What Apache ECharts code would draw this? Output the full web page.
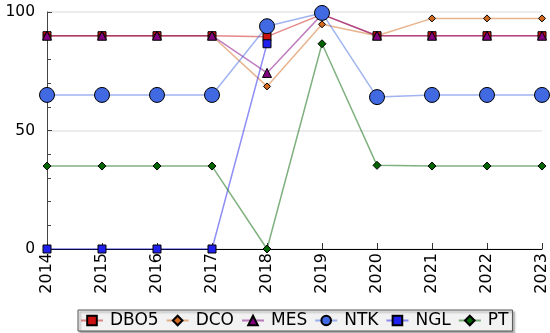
<!DOCTYPE html>
<html>
<head>
<meta charset="utf-8">
<script src="https://cdn.jsdelivr.net/npm/echarts@6/dist/echarts.min.js"></script>
<style>
  html, body { margin: 0; padding: 0; background: #fff; }
  #chart { width: 550px; height: 333px; }
</style>
</head>
<body>
<div id="chart"></div>
<script>
const years = ['2014', '2015', '2016', '2017', '2018', '2019', '2020', '2021', '2022', '2023']
const dbo5 = [90, 90, 90, 90, 89.6, 99, 90, 90, 90, 90]
const dco = [90, 90, 90, 90, 68.6, 94.8, 90, 97.3, 97.3, 97.3]
const mes = [90, 90, 90, 90, 74.3, 99, 90, 90, 90, 90]
const ntk = [65, 65, 65, 65, 94, 99.6, 64.1, 65, 65, 65]
const ngl = [0, 0, 0, 0, 86.6, null, null, null, null, null]
const pt = [35, 35, 35, 35, 0, 86.6, 35.3, 35, 35, 35]

const chart = echarts.init(document.getElementById('chart'), null, { renderer: 'canvas' })

function line(name, data, color, symbol, size) {
  return {
    name: name,
    type: 'line',
    data: data,
    symbol: symbol,
    symbolSize: size,
    showAllSymbol: true,
    connectNulls: false,
    lineStyle: { color: color, width: 1.5, opacity: 0.5 },
    itemStyle: { color: color, borderColor: '#000', borderWidth: 1 },
    emphasis: { disabled: true },
    animation: false
  }
}

chart.setOption({
  animation: false,
  textStyle: { fontFamily: 'DejaVu Sans' },
  grid: { left: 47, right: 5, top: 12, bottom: 84 },
  legend: {
    bottom: 2,
    left: 78,
    itemWidth: 22,
    itemHeight: 12,
    itemGap: 7,
    padding: [2, 4, 2, 2],
    borderColor: '#555',
    borderWidth: 1,
    backgroundColor: '#f2f2f2',
    shadowColor: 'rgba(0,0,0,0.35)',
    shadowOffsetX: 2,
    shadowOffsetY: 2,
    shadowBlur: 2,
    textStyle: { fontSize: 17, color: '#000', fontFamily: 'DejaVu Sans', padding: [0, 0, 0, 2] },
    data: ['DBO5', 'DCO', 'MES', 'NTK', 'NGL', 'PT']
  },
  xAxis: {
    type: 'category',
    data: years,
    boundaryGap: false,
    axisLine: { lineStyle: { color: '#000', width: 1 } },
    axisTick: { inside: true, length: 6, lineStyle: { color: '#333' } },
    axisLabel: { rotate: 90, fontSize: 16, color: '#000', margin: 4, interval: 0 },
    splitLine: { show: false }
  },
  yAxis: {
    type: 'value',
    min: 0,
    max: 100,
    interval: 50,
    axisLine: { show: true, lineStyle: { color: '#444', width: 1 } },
    axisTick: { show: true, inside: true, length: 5, lineStyle: { color: '#444' } },
    minorTick: { show: true, splitNumber: 5, length: 4, lineStyle: { color: '#444' } },
    axisLabel: { fontSize: 15.5, color: '#000', margin: 12 },
    splitLine: { show: true, lineStyle: { color: '#e6e6e6', width: 1.5 } }
  },
  series: [
    line('DBO5', dbo5, '#cc1111', 'rect', 8),
    line('DCO', dco, '#d2691e', 'diamond', 7),
    line('MES', mes, '#800080', 'triangle', 9),
    line('NTK', ntk, '#4169e1', 'circle', 15),
    line('NGL', ngl, '#2020ee', 'rect', 8),
    line('PT', pt, '#006400', 'diamond', 8)
  ]
})
</script>
</body>
</html>
